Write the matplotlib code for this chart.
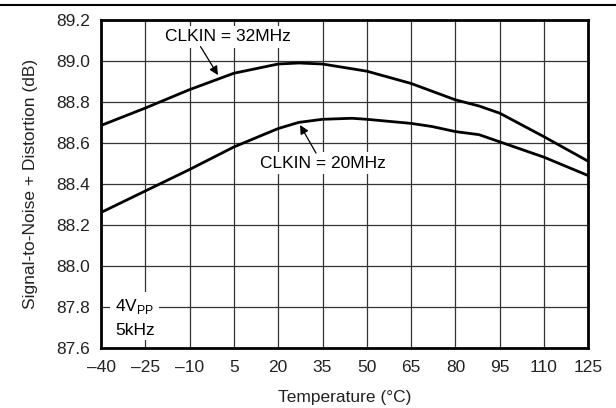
import matplotlib
matplotlib.use("Agg")
import matplotlib.pyplot as plt
from matplotlib.lines import Line2D

plt.rcParams['font.family'] = ['Liberation Sans', 'DejaVu Sans']

temp_32 = [-40, -25, -10, 5, 20, 27, 35, 50, 65, 80, 88, 95, 110, 125]
snr_32 = [88.685, 88.77, 88.86, 88.94, 88.985, 88.99, 88.985, 88.95, 88.89, 88.81, 88.78, 88.745, 88.63, 88.51]

temp_20 = [-40, -25, -10, 5, 20, 27, 35, 45, 50, 65, 72, 80, 88, 95, 110, 125]
snr_20 = [88.26, 88.365, 88.47, 88.58, 88.67, 88.70, 88.715, 88.72, 88.715, 88.695, 88.68, 88.655, 88.64, 88.605, 88.53, 88.44]

xticks = [-40, -25, -10, 5, 20, 35, 50, 65, 80, 95, 110, 125]
yticks = [87.6, 87.8, 88.0, 88.2, 88.4, 88.6, 88.8, 89.0, 89.2]

FS = 12.5

fig = plt.figure(figsize=(6.16, 4.08), dpi=100)
ax = fig.add_axes([0.164, 0.148, 0.791, 0.803])

ax.plot(temp_32, snr_32, color='black', lw=2.0, zorder=3)
ax.plot(temp_20, snr_20, color='black', lw=2.0, zorder=3)

ax.set_xlim(-40, 125)
ax.set_ylim(87.6, 89.2)
ax.set_xticks(xticks)
ax.set_xticklabels(['\u2013' + str(-t) if t < 0 else str(t) for t in xticks])
ax.set_yticks(yticks)
ax.set_yticklabels([f"{v:.1f}" for v in yticks])
ax.tick_params(length=0, labelsize=FS, colors='#222222')
ax.tick_params(axis='x', pad=9)
ax.tick_params(axis='y', pad=8)
ax.grid(True, color='#333333', lw=0.9)
ax.set_axisbelow(True)
for s in ax.spines.values():
    s.set_linewidth(2.0)
    s.set_color('black')

ax.set_xlabel('Temperature (\u00b0C)', fontsize=FS, labelpad=11, color='#222222')
ax.set_ylabel('Signal-to-Noise + Distortion (dB)', fontsize=FS, labelpad=13, color='#222222')

bbox = dict(boxstyle='square,pad=0.2', fc='white', ec='none')
arrow = dict(arrowstyle='-|>', color='black', lw=0.9, mutation_scale=13, shrinkA=0, shrinkB=0)

ax.text(3.0, 89.117, 'CLKIN = 32MHz', ha='center', va='center', fontsize=FS, bbox=bbox, zorder=4)
ax.annotate('', xy=(-0.4, 88.931), xytext=(-6.3, 89.07), arrowprops=arrow, zorder=5)

ax.text(35.2, 88.50, 'CLKIN = 20MHz', ha='center', va='center', fontsize=FS, bbox=bbox, zorder=4)
ax.annotate('', xy=(27.4, 88.687), xytext=(32.8, 88.55), arrowprops=arrow, zorder=5)

ax.text(-35.3, 87.80, '4V$_{\\mathregular{PP}}$', ha='left', va='center', fontsize=FS,
        bbox=dict(boxstyle='square,pad=0.3', fc='white', ec='none'), zorder=4)
ax.text(-35.3, 87.685, '5kHz', ha='left', va='center', fontsize=FS,
        bbox=dict(boxstyle='square,pad=0.15', fc='white', ec='none'), zorder=4)

fig.add_artist(Line2D([0, 1], [0.988, 0.988], color='black', lw=1.5, transform=fig.transFigure))

fig.savefig('out.png', dpi=100)
